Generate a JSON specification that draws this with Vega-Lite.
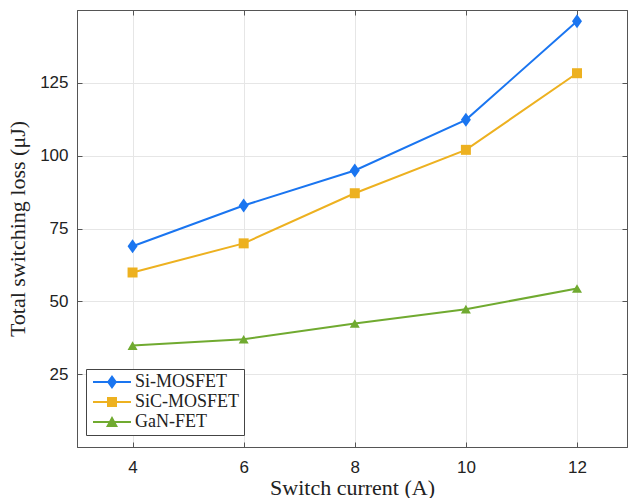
{
  "$schema": "https://vega.github.io/schema/vega-lite/v6.json",
  "autosize": {"type": "none"},
  "padding": {"left": 77, "top": 10, "right": 2, "bottom": 51},
  "width": 550,
  "height": 437,
  "background": "white",
  "config": {
    "view": {"stroke": "#555", "strokeWidth": 1},
    "axis": {
      "domainColor": "#555",
      "tickColor": "#555",
      "tickSize": -5,
      "gridColor": "#e6e6e6",
      "labelFont": "Liberation Sans",
      "labelFontSize": 17,
      "labelColor": "#222",
      "titleFont": "Liberation Serif",
      "titleFontSize": 22,
      "titleFontWeight": "normal",
      "titleColor": "#222"
    },
    "legend": {
      "symbolSize": 196,
      "symbolStrokeWidth": 0
    }
  },
  "data": {
    "values": [
      {"current": 4, "loss": 68.9, "device": "Si-MOSFET"},
      {"current": 6, "loss": 82.9, "device": "Si-MOSFET"},
      {"current": 8, "loss": 94.9, "device": "Si-MOSFET"},
      {"current": 10, "loss": 112.3, "device": "Si-MOSFET"},
      {"current": 12, "loss": 146.1, "device": "Si-MOSFET"},
      {"current": 4, "loss": 59.9, "device": "SiC-MOSFET"},
      {"current": 6, "loss": 69.9, "device": "SiC-MOSFET"},
      {"current": 8, "loss": 87.1, "device": "SiC-MOSFET"},
      {"current": 10, "loss": 102.0, "device": "SiC-MOSFET"},
      {"current": 12, "loss": 128.3, "device": "SiC-MOSFET"},
      {"current": 4, "loss": 34.8, "device": "GaN-FET"},
      {"current": 6, "loss": 37.0, "device": "GaN-FET"},
      {"current": 8, "loss": 42.4, "device": "GaN-FET"},
      {"current": 10, "loss": 47.3, "device": "GaN-FET"},
      {"current": 12, "loss": 54.4, "device": "GaN-FET"}
    ]
  },
  "resolve": {
    "scale": {"color": "independent", "shape": "independent", "size": "independent"},
    "axis": {"x": "independent", "y": "independent"},
    "legend": {"color": "independent", "shape": "independent"}
  },
  "layer": [
    {
      "mark": {"type": "line", "strokeWidth": 2},
      "encoding": {
        "x": {"field": "current", "type": "quantitative",
              "scale": {"domain": [3, 12.9], "nice": false, "zero": false},
              "axis": {"values": [4, 6, 8, 10, 12], "grid": true, "labelPadding": 17, "title": "Switch current (A)", "titlePadding": 2}},
        "y": {"field": "loss", "type": "quantitative",
              "scale": {"domain": [0, 150], "nice": false},
              "axis": {"values": [25, 50, 75, 100, 125], "grid": true, "labelPadding": 14, "title": "Total switching loss (μJ)", "titlePadding": 10}},
        "color": {"field": "device", "type": "nominal",
                  "scale": {"domain": ["Si-MOSFET", "SiC-MOSFET", "GaN-FET"], "range": ["#1a75f0", "#edb120", "#70aa30"]},
                  "legend": null}
      }
    },
    {
      "mark": {"type": "point", "filled": true, "opacity": 1},
      "encoding": {
        "x": {"field": "current", "type": "quantitative", "axis": null},
        "y": {"field": "loss", "type": "quantitative", "axis": null},
        "color": {"field": "device", "type": "nominal",
                  "scale": {"domain": ["Si-MOSFET", "SiC-MOSFET", "GaN-FET"], "range": ["#1a75f0", "#edb120", "#70aa30"]},
                  "legend": null},
        "shape": {"field": "device", "type": "nominal",
                  "scale": {"domain": ["Si-MOSFET", "SiC-MOSFET", "GaN-FET"], "range": ["M0,-1.4L1,0L0,1.4L-1,0Z", "square", "triangle-up"]},
                  "legend": null},
        "size": {"field": "device", "type": "nominal",
                 "scale": {"domain": ["Si-MOSFET", "SiC-MOSFET", "GaN-FET"], "range": [100, 100, 140]},
                 "legend": null}
      }
    },
    {
      "transform": [{"filter": "false"}],
      "mark": {"type": "point", "filled": true, "opacity": 1, "size": 196, "strokeWidth": 0},
      "encoding": {
        "color": {"field": "device", "type": "nominal",
                  "scale": {"domain": ["Si-MOSFET", "SiC-MOSFET", "GaN-FET"], "range": ["#1a75f0", "#edb120", "#70aa30"]},
                  "legend": {
                    "title": null,
                    "orient": "none",
                    "legendX": 9,
                    "legendY": 359,
                    "fillColor": "white",
                    "strokeColor": "#444",
                    "padding": 4,
                    "rowPadding": 2,
                    "labelFont": "Liberation Serif",
                    "labelFontSize": 18,
                    "labelColor": "#222",
                    "labelOffset": 27,
                    "symbolSize": 196
                  }},
        "shape": {"field": "device", "type": "nominal",
                  "scale": {"domain": ["Si-MOSFET", "SiC-MOSFET", "GaN-FET"],
                            "range": ["M-0.857,-0.143H4.571V0.143H-0.857Z M1.857,-1L2.571,0L1.857,1L1.143,0Z", "M-0.857,-0.143H4.571V0.143H-0.857Z M1.143,-0.714H2.571V0.714H1.143Z", "M-0.857,-0.143H4.571V0.143H-0.857Z M1.857,-0.857L2.714,0.714L1,0.714Z"]},
                  "legend": {
                    "title": null,
                    "orient": "none",
                    "legendX": 9,
                    "legendY": 359,
                    "fillColor": "white",
                    "strokeColor": "#444",
                    "padding": 4,
                    "rowPadding": 2,
                    "labelFont": "Liberation Serif",
                    "labelFontSize": 18,
                    "labelColor": "#222",
                    "labelOffset": 27,
                    "symbolSize": 196
                  }}
      }
    },
    {
      "mark": {"type": "point", "opacity": 0},
      "encoding": {
        "x": {"field": "current", "type": "quantitative",
              "axis": {"orient": "top", "values": [4, 6, 8, 10, 12], "labels": false, "grid": false, "title": null}},
        "y": {"field": "loss", "type": "quantitative",
              "axis": {"orient": "right", "values": [25, 50, 75, 100, 125], "labels": false, "grid": false, "title": null}}
      }
    }
  ]
}
